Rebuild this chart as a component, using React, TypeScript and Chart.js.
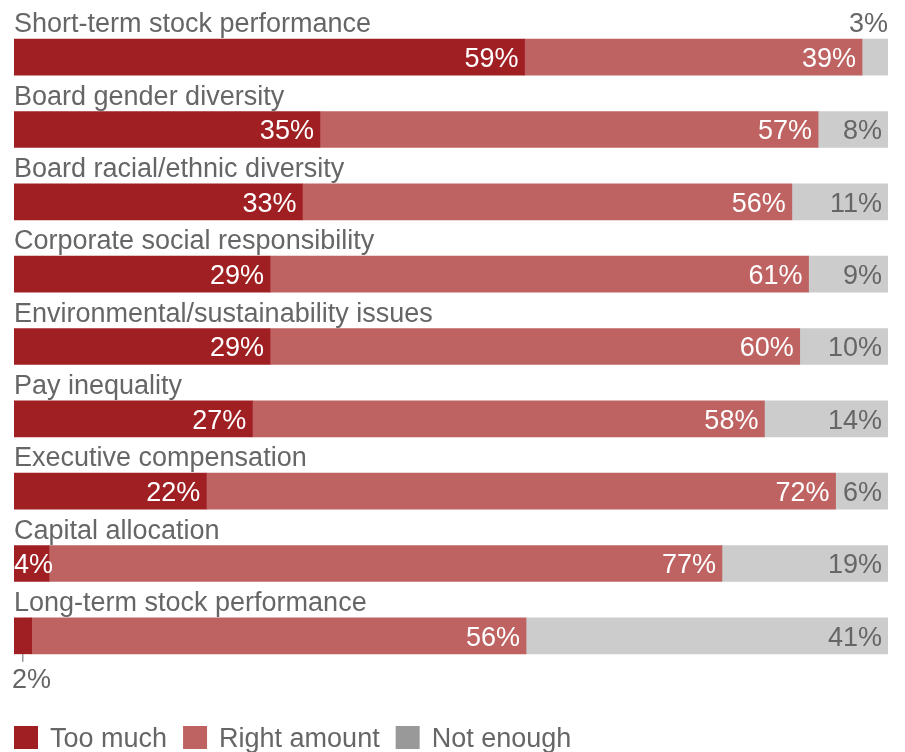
import React, { useEffect, useRef } from "react";
import { Chart, registerables } from "chart.js";

Chart.register(...registerables);

const categories = [
  "Short-term stock performance",
  "Board gender diversity",
  "Board racial/ethnic diversity",
  "Corporate social responsibility",
  "Environmental/sustainability issues",
  "Pay inequality",
  "Executive compensation",
  "Capital allocation",
  "Long-term stock performance",
];
const tooMuch = [59, 35, 33, 29, 29, 27, 22, 4, 2];
const rightAmount = [39, 57, 56, 61, 60, 58, 72, 77, 56];
const notEnough = [3, 8, 11, 9, 10, 14, 6, 19, 41];
const seriesNames = ["Too much", "Right amount", "Not enough"];
const seriesColors = ["#A01F22", "#BE6262", "#CCCCCC"];
const legendColors = ["#A01F22", "#BE6262", "#999999"];

const FONT_SIZE = 27;
const FONT = FONT_SIZE + "px 'Liberation Sans', Arial, sans-serif";
const TEXT_GRAY = "#666666";

const rawSeries = [tooMuch, rightAmount, notEnough];
const totals = categories.map((_, i) => tooMuch[i] + rightAmount[i] + notEnough[i]);
const normalized = rawSeries.map((s) => s.map((v, i) => (v / totals[i]) * 100));

const labelPlugin = {
  id: "customLabels",
  afterDatasetsDraw(chart: any) {
    const ctx = chart.ctx;
    const area = chart.chartArea;
    ctx.save();
    ctx.font = FONT;
    const capOff = FONT_SIZE * 0.36;
    const meta0 = chart.getDatasetMeta(0);
    meta0.data.forEach((el: any, i: number) => {
      const top = el.y - el.height / 2;
      ctx.fillStyle = TEXT_GRAY;
      ctx.textAlign = "left";
      ctx.textBaseline = "alphabetic";
      ctx.fillText(categories[i], area.left, top - 7);
    });
    chart.data.datasets.forEach((ds: any, di: number) => {
      const meta = chart.getDatasetMeta(di);
      meta.data.forEach((el: any, i: number) => {
        const val = rawSeries[di][i];
        const text = val + "%";
        const left = Math.min(el.base, el.x);
        const right = Math.max(el.base, el.x);
        const segW = right - left;
        const w = ctx.measureText(text).width;
        const top = el.y - el.height / 2;
        const bottom = el.y + el.height / 2;
        const color = di === 2 ? TEXT_GRAY : "#FFFFFF";
        ctx.textBaseline = "alphabetic";
        if (w + 6 <= segW) {
          ctx.fillStyle = color;
          ctx.textAlign = "right";
          ctx.fillText(text, right - 6, el.y + capOff);
        } else if (di === 2) {
          ctx.fillStyle = TEXT_GRAY;
          ctx.textAlign = "right";
          ctx.fillText(text, right, top - 7);
        } else if (segW < 25) {
          const cx = (left + right) / 2;
          ctx.strokeStyle = TEXT_GRAY;
          ctx.lineWidth = 1;
          ctx.beginPath();
          ctx.moveTo(cx, bottom);
          ctx.lineTo(cx, bottom + 8);
          ctx.stroke();
          ctx.fillStyle = TEXT_GRAY;
          ctx.textAlign = "left";
          ctx.fillText(text, left - 2, bottom + 34);
        } else {
          ctx.fillStyle = color;
          ctx.textAlign = "left";
          ctx.fillText(text, left, el.y + capOff);
        }
      });
    });
    let x = area.left;
    const sqTop = 726;
    seriesNames.forEach((name, i) => {
      ctx.fillStyle = legendColors[i];
      ctx.fillRect(x, sqTop, 24, 23);
      x += 24 + 12;
      ctx.fillStyle = TEXT_GRAY;
      ctx.textAlign = "left";
      ctx.fillText(name, x, 747);
      x += ctx.measureText(name).width + 16;
    });
    ctx.restore();
  },
};

export default function App() {
  const ref = useRef<HTMLCanvasElement | null>(null);
  useEffect(() => {
    if (!ref.current) return;
    const chart = new Chart(ref.current, {
      type: "bar",
      data: {
        labels: categories,
        datasets: seriesNames.map((name, i) => ({
          label: name,
          data: normalized[i],
          backgroundColor: seriesColors[i],
          borderWidth: 0,
          barThickness: 36,
        })),
      },
      options: {
        indexAxis: "y",
        responsive: false,
        animation: false,
        layout: { padding: { left: 14, right: 17, top: 21, bottom: 80 } },
        scales: {
          x: { stacked: true, min: 0, max: 100, display: false },
          y: { stacked: true, display: false, offset: true },
        },
        plugins: {
          legend: { display: false },
          tooltip: { enabled: false },
        },
      },
      plugins: [labelPlugin],
    } as any);
    return () => chart.destroy();
  }, []);
  return (
    <div style={{ position: "absolute", left: 0, top: 0, width: 905, height: 752, background: "#fff" }}>
      <canvas ref={ref} width={905} height={752} />
    </div>
  );
}
